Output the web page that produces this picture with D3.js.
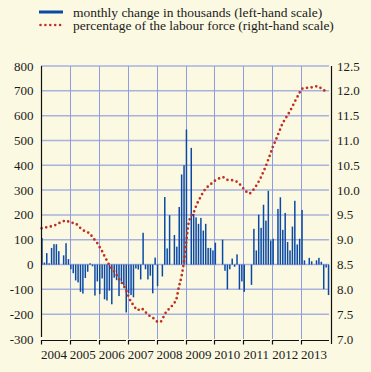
<!DOCTYPE html>
<html>
<head>
<meta charset="utf-8">
<script src="https://cdn.jsdelivr.net/npm/d3@7"></script>
<style>
  html, body { margin: 0; padding: 0; background: #fcf9e2; }
  svg { display: block; }
  text { font-family: "Liberation Serif", "DejaVu Serif", serif; fill: #1a1a1a; }
</style>
</head>
<body>
<div id="chart"></div>
<script>
const years = ["2004","2005","2006","2007","2008","2009","2010","2011","2012","2013"];

// monthly change in thousands (left-hand scale), Jan 2004 .. Dec 2013
const monthlyChange = [
  107, 8, 46, 5, 67, 82, 82, 54, 0, 37, 86, 22,
  -19, -35, -64, -72, -110, -117, -54, -29, 5, -7, -125, -68,
  -119, -56, -140, -145, -105, -160, -53, -63, -127, -69, -85, -193,
  -116, -123, -132, -16, -20, -60, 128, -19, -60, -45, -116, 28,
  -87, 0, -48, 272, 65, 199, 0, 119, 72, 232, 363, 400,
  544, 0, 470, 204, 190, 164, 188, 137, 164, 67, 67, 57,
  88, 0, 0, 100, -25, -100, -19, 24, -9, 41, -100, -68,
  -110, 0, 0, -82, 144, 57, 201, 148, 241, 177, 297, 97,
  104, 0, 224, 271, 140, 208, 91, 57, 153, 257, 81, 104,
  220, 17, 0, 27, 13, 0, 17, 27, 11, -99, -12, -123
];

// percentage of the labour force (right-hand scale)
const unemploymentRate = [
  9.23, 9.24, 9.25, 9.26, 9.27, 9.29, 9.30, 9.33, 9.35, 9.37, 9.39, 9.37,
  9.35, 9.34, 9.33, 9.29, 9.24, 9.20, 9.17, 9.15, 9.13, 9.06, 9.00, 8.94,
  8.86, 8.78, 8.68, 8.59, 8.50, 8.43, 8.37, 8.30, 8.22, 8.15, 8.08, 7.99,
  7.87, 7.76, 7.69, 7.62, 7.58, 7.62, 7.60, 7.55, 7.50, 7.46, 7.43, 7.40,
  7.35, 7.34, 7.38, 7.49, 7.56, 7.61, 7.66, 7.72, 7.81, 8.05, 8.24, 8.52,
  8.93, 9.32, 9.47, 9.53, 9.66, 9.77, 9.86, 9.95, 10.02, 10.07, 10.11, 10.15,
  10.19, 10.22, 10.24, 10.26, 10.25, 10.21, 10.20, 10.20, 10.19, 10.17, 10.13, 10.08,
  10.02, 9.97, 9.93, 9.95, 10.01, 10.08, 10.16, 10.25, 10.36, 10.47, 10.60, 10.73,
  10.87, 10.98, 11.10, 11.22, 11.34, 11.42, 11.50, 11.58, 11.67, 11.77, 11.86, 11.95,
  12.04, 12.05, 12.06, 12.06, 12.07, 12.08, 12.09, 12.09, 12.05, 12.02, 11.99, 11.96
];

const leftTicks = [-300, -200, -100, 0, 100, 200, 300, 400, 500, 600, 700, 800];
const rightTicks = [7.0, 7.5, 8.0, 8.5, 9.0, 9.5, 10.0, 10.5, 11.0, 11.5, 12.0, 12.5];

const legendLabels = [
  "monthly change in thousands (left-hand scale)",
  "percentage of the labour force (right-hand scale)"
];

const W = 371, H = 372;
const BAR = "#0a4aa6", DOT = "#bf2f22";
const svg = d3.select("#chart").append("svg").attr("width", W).attr("height", H);
svg.append("rect").attr("width", W).attr("height", H).attr("fill", "#fcf9e2");

const x = d3.scaleLinear().domain([0, 120]).range([41, 330]);
const yL = d3.scaleLinear().domain([-300, 800]).range([339, 66]);
const yR = d3.scaleLinear().domain([7, 12.5]).range([339, 66]);

// horizontal gridlines
svg.append("g").selectAll("line").data(leftTicks.slice(1)).join("line")
  .attr("x1", 41).attr("x2", 329)
  .attr("y1", d => yL(d)).attr("y2", d => yL(d))
  .attr("stroke", "#a9b2df").attr("stroke-width", 1.5);

// vertical gridlines at year boundaries
svg.append("g").selectAll("line").data(d3.range(1, years.length)).join("line")
  .attr("x1", k => Math.round(x(k * 12)) + 0.5).attr("x2", k => Math.round(x(k * 12)) + 0.5)
  .attr("y1", 66).attr("y2", 339)
  .attr("stroke", "#8e9de0").attr("stroke-width", 1);

// bars
svg.append("g").selectAll("rect").data(monthlyChange).join("rect")
  .attr("x", (d, i) => x(i) + 0.2)
  .attr("width", 1.5)
  .attr("y", d => yL(Math.max(0, d)))
  .attr("height", d => Math.abs(yL(d) - yL(0)))
  .attr("fill", BAR);

// dotted line
const line = d3.line().x((d, i) => x(i + 0.5) - 0.6).y(d => yR(d)).curve(d3.curveMonotoneX);
svg.append("path").datum(unemploymentRate)
  .attr("d", line)
  .attr("fill", "none").attr("stroke", DOT)
  .attr("stroke-width", 2.7).attr("stroke-linecap", "round")
  .attr("stroke-dasharray", "0 4.7");

// left axis
svg.append("line").attr("x1", 41.5).attr("x2", 41.5).attr("y1", 66).attr("y2", 337)
  .attr("stroke", "#111").attr("stroke-width", 1.2);
svg.append("g").selectAll("text").data(leftTicks).join("text")
  .attr("x", 33.5).attr("y", d => yL(d)).attr("dy", "0.35em")
  .attr("text-anchor", "end").attr("font-size", 13)
  .text(d => d);

// right axis
svg.append("line").attr("x1", 331.5).attr("x2", 331.5).attr("y1", 66).attr("y2", 344)
  .attr("stroke", "#111").attr("stroke-width", 1.2);
svg.append("g").selectAll("text").data(rightTicks).join("text")
  .attr("x", 337).attr("y", d => yR(d)).attr("dy", "0.35em")
  .attr("text-anchor", "start").attr("font-size", 13)
  .text(d => d3.format(".1f")(d));

// bottom axis brackets
svg.append("g").selectAll("path").data(d3.range(years.length)).join("path")
  .attr("d", k => {
    const x0 = Math.round(x(k * 12)) + 0.5;
    const x1 = k === years.length - 1 ? 329 : Math.round(x(k * 12 + 12)) - 2;
    return `M${x0},344.5V340.5H${x1}`;
  })
  .attr("fill", "none").attr("stroke", "#111").attr("stroke-width", 1.2);
svg.append("g").selectAll("text").data(years).join("text")
  .attr("x", (d, k) => x(k * 12 + 6) - 1.5).attr("y", 354).attr("dy", "0.35em")
  .attr("text-anchor", "middle").attr("font-size", 13)
  .text(d => d);

// legend
svg.append("rect").attr("x", 39).attr("y", 10.5).attr("width", 24).attr("height", 3).attr("fill", BAR);
svg.append("g").selectAll("circle").data(d3.range(5)).join("circle")
  .attr("cx", d => 40.5 + d * 4.9).attr("cy", 25).attr("r", 1.3).attr("fill", DOT);
svg.append("g").selectAll("text").data(legendLabels).join("text")
  .attr("x", 73).attr("y", (d, i) => 12 + i * 13.5).attr("dy", "0.35em")
  .attr("font-size", 13.5)
  .text(d => d);
</script>
</body>
</html>
